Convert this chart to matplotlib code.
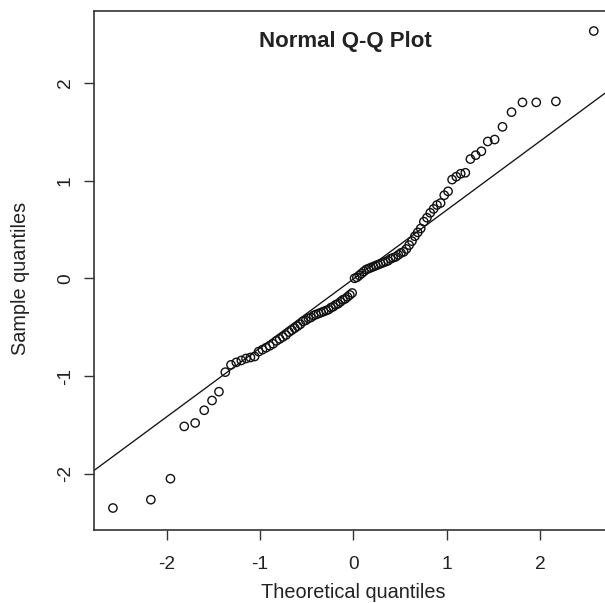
import matplotlib
matplotlib.use("Agg")
import matplotlib.pyplot as plt

plt.rcParams['font.family'] = ['Liberation Sans', 'DejaVu Sans']

# Theoretical normal quantiles (n = 100)
theoretical = [
    -2.576, -2.170, -1.960, -1.812, -1.695, -1.598, -1.514, -1.440, -1.372, -1.311,
    -1.254, -1.200, -1.150, -1.103, -1.058, -1.015, -0.974, -0.935, -0.896, -0.860,
    -0.824, -0.789, -0.755, -0.722, -0.690, -0.659, -0.628, -0.598, -0.568, -0.539,
    -0.510, -0.482, -0.454, -0.426, -0.399, -0.372, -0.345, -0.319, -0.292, -0.266,
    -0.240, -0.215, -0.189, -0.164, -0.138, -0.113, -0.088, -0.063, -0.038, -0.013,
    0.013, 0.038, 0.063, 0.088, 0.113, 0.138, 0.164, 0.189, 0.215, 0.240,
    0.266, 0.292, 0.319, 0.345, 0.372, 0.399, 0.426, 0.454, 0.482, 0.510,
    0.539, 0.568, 0.598, 0.628, 0.659, 0.690, 0.722, 0.755, 0.789, 0.824,
    0.860, 0.896, 0.935, 0.974, 1.015, 1.058, 1.103, 1.150, 1.200, 1.254,
    1.311, 1.372, 1.440, 1.514, 1.598, 1.695, 1.812, 1.960, 2.170, 2.576,
]

# Sorted sample values
sample = [
    -2.35, -2.265, -2.05, -1.515, -1.48, -1.35, -1.25, -1.16, -0.96, -0.885,
    -0.86, -0.84, -0.82, -0.81, -0.80, -0.75, -0.73, -0.71, -0.69, -0.67,
    -0.64, -0.62, -0.60, -0.58, -0.55, -0.53, -0.51, -0.49, -0.47, -0.44,
    -0.43, -0.41, -0.40, -0.38, -0.37, -0.36, -0.35, -0.34, -0.33, -0.32,
    -0.30, -0.29, -0.27, -0.26, -0.24, -0.22, -0.21, -0.19, -0.17, -0.15,
    0.00, 0.01, 0.03, 0.05, 0.07, 0.09, 0.10, 0.11, 0.12, 0.13,
    0.14, 0.15, 0.16, 0.17, 0.18, 0.20, 0.21, 0.22, 0.24, 0.26,
    0.27, 0.30, 0.34, 0.38, 0.43, 0.47, 0.51, 0.58, 0.62, 0.67,
    0.71, 0.75, 0.77, 0.85, 0.89, 1.01, 1.04, 1.07, 1.08, 1.22,
    1.26, 1.30, 1.40, 1.42, 1.55, 1.70, 1.80, 1.80, 1.81, 2.53,
]

# Reference line (qqline)
line_intercept = -0.007
line_slope = 0.705

x_ticks = [-2, -1, 0, 1, 2]
y_ticks = [-2, -1, 0, 1, 2]
x_tick_labels = ["-2", "-1", "0", "1", "2"]
y_tick_labels = ["-2", "-1", "0", "1", "2"]

title = "Normal Q-Q Plot"
x_label = "Theoretical quantiles"
y_label = "Sample quantiles"

W, H = 605, 603
fig = plt.figure(figsize=(W / 100, H / 100), dpi=100)
ax = fig.add_axes([93.9 / W, (H - 530) / H, 518.9 / W, 519 / H])

ink = "#111111"
ax.scatter(theoretical, sample, s=36, facecolors="none", edgecolors=ink,
           linewidths=1.0, zorder=3)
ax.axline((0, line_intercept), slope=line_slope, color=ink, lw=0.95, zorder=2)

ax.set_xlim(-2.78, 2.78)
ax.set_ylim(-2.575, 2.735)

for side in ["left", "top", "bottom", "right"]:
    ax.spines[side].set_color("#333333")
    ax.spines[side].set_linewidth(1.2)

ax.set_xticks(x_ticks)
ax.set_xticklabels(x_tick_labels, fontsize=13.8, color="#222222")
ax.set_yticks(y_ticks)
ax.set_yticklabels(y_tick_labels, fontsize=13.8, color="#222222",
                   rotation=90, va="center")
ax.tick_params(axis="both", length=7.5, width=1.0, color="#333333")
ax.tick_params(axis="x", pad=11)
ax.tick_params(axis="y", pad=7)

fig.text(345 / W, 1 - 42 / H, title, fontsize=16, fontweight="bold",
         ha="center", va="center", color="#222222")
fig.text(353.3 / W, 1 - 593 / H, x_label, fontsize=14.3,
         ha="center", va="center", color="#222222")
fig.text(21 / W, 1 - 278 / H, y_label, fontsize=14.3, rotation=90,
         ha="center", va="center", color="#222222")

fig.savefig("out.png", dpi=100)
